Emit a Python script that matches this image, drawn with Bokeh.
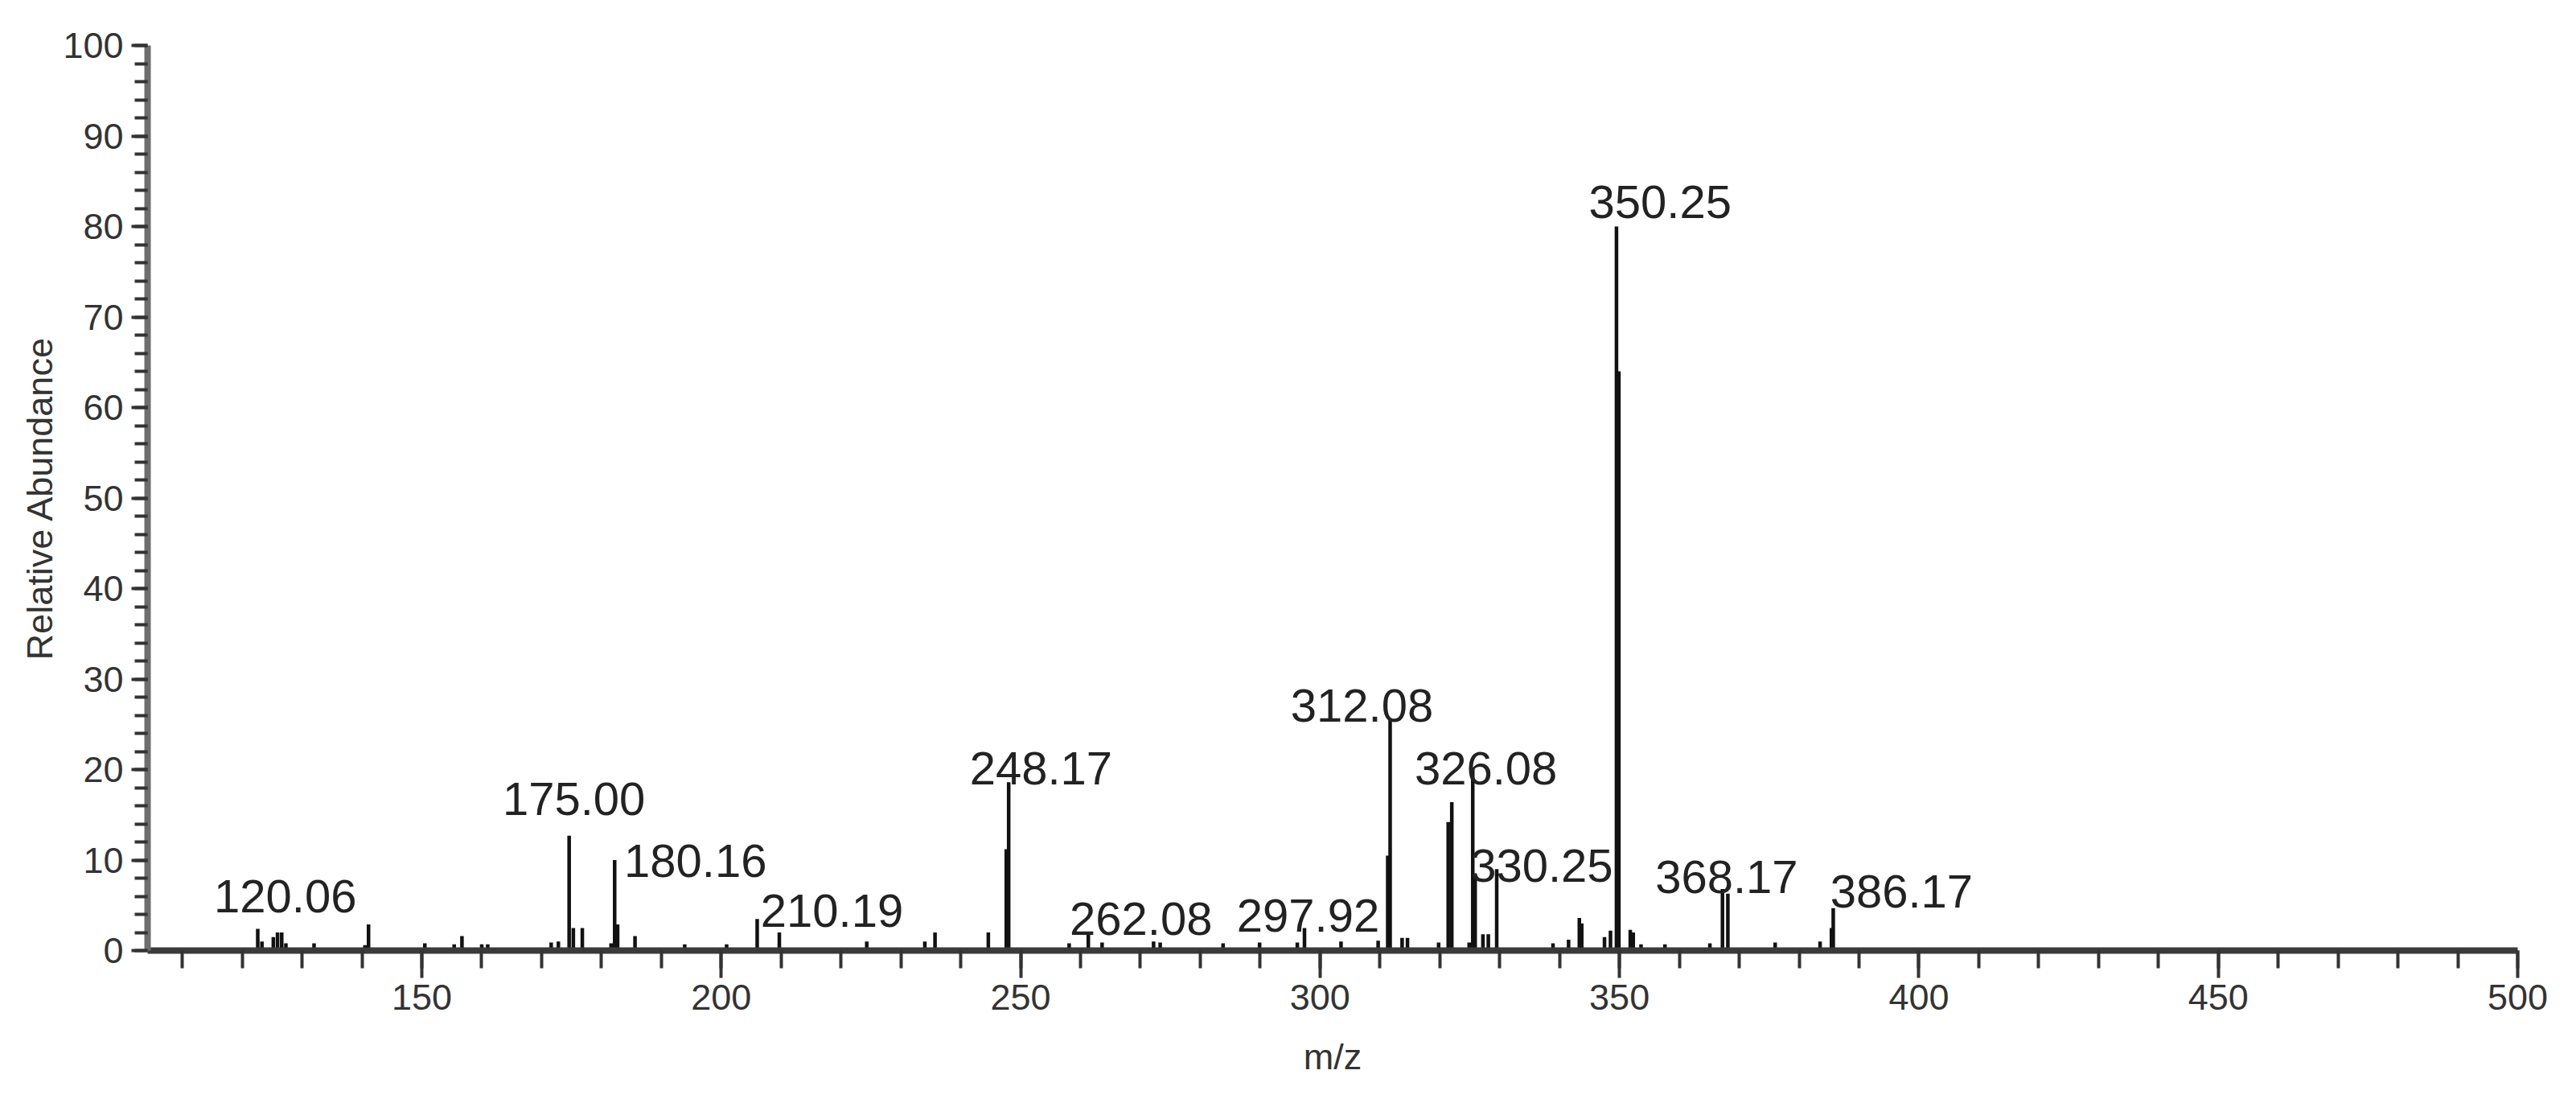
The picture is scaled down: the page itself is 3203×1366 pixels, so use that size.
from bokeh.plotting import figure
from bokeh.models import Range1d, SingleIntervalTicker, ColumnDataSource
from bokeh.core.properties import value
from bokeh.embed import file_html
from bokeh.resources import INLINE

# ---- data ----
peak_mz = [122.6, 123.3, 125.2, 125.9, 126.6, 127.3, 132.0, 140.5, 141.1, 150.5,
           155.4, 156.7, 160.0, 161.0, 171.6, 172.8, 174.6, 175.3, 176.8, 181.6,
           182.2, 182.7, 185.6, 193.9, 200.9, 206.0, 209.7, 224.3, 234.0, 235.7,
           244.6, 247.6, 248.0, 258.1, 261.3, 263.6, 272.2, 273.3, 283.8, 289.9,
           296.2, 297.4, 303.5, 309.7, 311.3, 311.7, 313.7, 314.6, 319.8, 321.4,
           322.0, 324.9, 325.5, 325.9, 327.2, 328.1, 329.5, 338.9, 341.5, 343.3,
           343.7, 347.5, 348.5, 349.5, 349.9, 351.8, 352.3, 353.6, 357.6, 365.1,
           367.2, 368.1, 376.0, 383.5, 385.4, 385.7]
peak_abundance = [2.4, 1.0, 1.5, 2.0, 2.0, 0.8, 0.8, 0.6, 2.9, 0.8,
                  0.7, 1.6, 0.7, 0.7, 0.9, 1.0, 12.7, 2.5, 2.5, 0.8,
                  10.0, 2.9, 1.6, 0.7, 0.7, 3.5, 2.0, 1.0, 1.0, 2.0,
                  2.0, 11.2, 18.6, 0.8, 2.0, 0.9, 1.0, 0.9, 0.8, 0.9,
                  0.9, 2.5, 1.0, 1.1, 10.5, 25.6, 1.4, 1.4, 0.9, 14.2,
                  16.4, 0.9, 20.1, 8.5, 1.8, 1.8, 9.0, 0.8, 1.2, 3.6,
                  3.0, 1.5, 2.2, 80.0, 64.0, 2.3, 2.0, 0.7, 0.7, 0.8,
                  6.8, 6.3, 0.9, 1.0, 2.5, 4.7]

label_text = ["120.06", "175.00", "180.16", "210.19", "248.17", "262.08", "297.92",
              "312.08", "326.08", "330.25", "350.25", "368.17", "386.17"]
label_mz = [127.2, 175.4, 195.7, 218.5, 253.4, 270.1, 298.0,
            307.0, 327.7, 337.0, 356.8, 367.9, 397.1]
label_base = [6.0, 16.8, 9.9, 4.4, 20.1, 3.5, 3.9,
              27.05, 20.1, 9.4, 82.7, 8.1, 6.5]

x_title = "m/z"
y_title = "Relative Abundance"

FONT = "Liberation Sans"

p = figure(width=3195, height=1358, output_backend="svg", toolbar_location=None,
           x_range=Range1d(104.2, 500), y_range=Range1d(0, 100),
           min_border_left=183, min_border_right=65, min_border_top=56,
           min_border_bottom=177)
p.outline_line_color = None
p.grid.visible = False
p.background_fill_color = "white"
p.border_fill_color = "white"

src = ColumnDataSource(dict(x=peak_mz, y=peak_abundance, y0=[0] * len(peak_mz)))
p.segment(x0="x", y0="y0", x1="x", y1="y", source=src, line_color="#111111",
          line_width=4.5, line_cap="butt")

lsrc = ColumnDataSource(dict(x=label_mz, y=label_base, t=label_text))
p.text(x="x", y="y", text="t", source=lsrc, text_font=value(FONT),
       text_font_size="58px", text_color="#222222", text_align="center",
       text_baseline="alphabetic")

xa = p.xaxis[0]
xa.ticker = SingleIntervalTicker(interval=50, num_minor_ticks=5)
xa.axis_label = x_title
ya = p.yaxis[0]
ya.ticker = SingleIntervalTicker(interval=10, num_minor_ticks=5)
ya.axis_label = y_title

for ax in (xa, ya):
    ax.major_label_text_font = FONT
    ax.major_label_text_font_size = "45px"
    ax.major_label_text_color = "#333333"
    ax.axis_label_text_font = FONT
    ax.axis_label_text_font_size = "45px"
    ax.axis_label_text_font_style = "normal"
    ax.axis_label_text_color = "#333333"
    ax.major_tick_in = 0
    ax.minor_tick_in = 0
    ax.major_tick_line_width = 4
    ax.minor_tick_line_width = 4
    ax.major_tick_line_color = "#333333"
    ax.minor_tick_line_color = "#333333"

xa.axis_line_width = 8
xa.axis_line_color = "#3a3a3a"
xa.major_tick_out = 34
xa.minor_tick_out = 22
xa.major_label_standoff = 8
xa.axis_label_standoff = 30

ya.axis_line_width = 8
ya.axis_line_color = "#6e6e6e"
ya.major_tick_out = 20
ya.minor_tick_out = 16
ya.major_label_standoff = 10
ya.axis_label_standoff = 0

open("out.html", "w").write(file_html(p, INLINE))
